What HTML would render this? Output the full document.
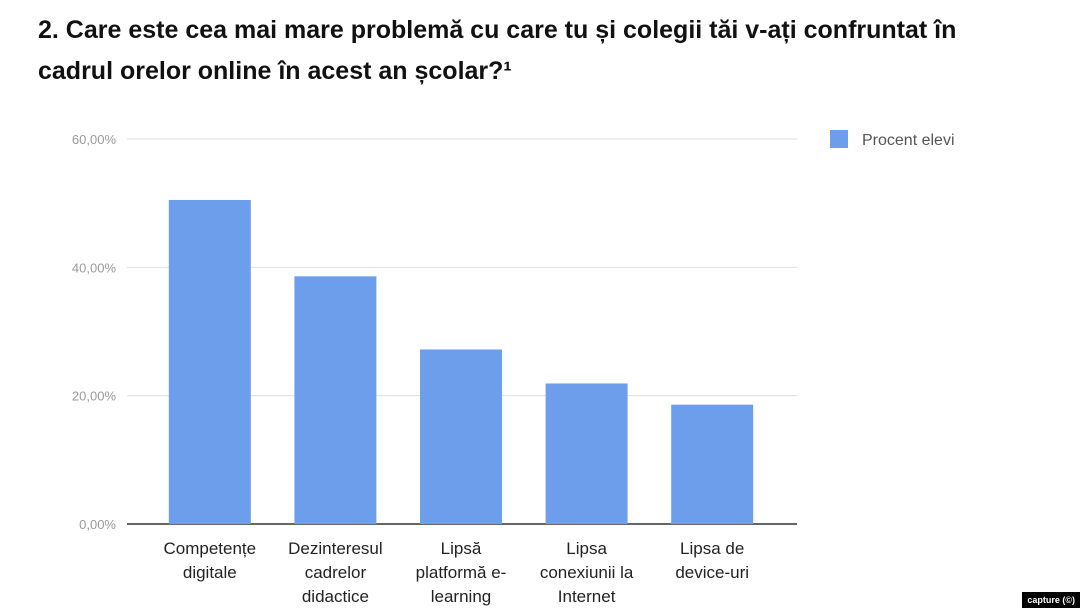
<!DOCTYPE html>
<html><head><meta charset="utf-8"><style>
body{margin:0;width:1080px;height:608px;background:#fff;overflow:hidden;position:relative;font-family:"Liberation Sans",sans-serif}
#title{position:absolute;left:38px;top:10px;font-size:25px;font-weight:bold;color:#111;line-height:41px;width:990px}
#cap{position:absolute;right:0;bottom:0;background:#000;color:#fff;font-size:9px;font-weight:bold;padding:3px 5px}
</style></head><body>
<div id="title">2. Care este cea mai mare problemă cu care tu și colegii tăi v-ați confruntat în cadrul orelor online în acest an școlar?¹</div>
<svg id="chart" width="1080" height="608" style="position:absolute;left:0;top:0"></svg>
<div id="cap">capture (©)</div>
<script>
const categories=[["Competențe","digitale"],["Dezinteresul","cadrelor","didactice"],["Lipsă","platformă e-","learning"],["Lipsa","conexiunii la","Internet"],["Lipsa de","device-uri"]];
const values=[50.5,38.6,27.2,21.9,18.6];
const ticks=[0,20,40,60];
const tickLabels=["0,00%","20,00%","40,00%","60,00%"];
const seriesName="Procent elevi";
const NS="http://www.w3.org/2000/svg";
const svg=document.getElementById('chart');
const x0=127,x1=797,yb=524,yt=139,maxV=60;
const bx0=147,bx1=775;
const y=v=>yb-(v/maxV)*(yb-yt);
const band=(bx1-bx0)/categories.length;
function mk(t,a){const e=document.createElementNS(NS,t);for(const k in a)e.setAttribute(k,a[k]);svg.appendChild(e);return e;}
ticks.forEach((t,i)=>{
 const g=mk('line',{x1:x0,x2:x1,y1:y(t),y2:y(t),stroke:t===0?'#333':'#ddd','stroke-width':t===0?1.5:1});
 
 
 const l=mk('text',{x:116,y:y(t)+5,'text-anchor':'end','font-size':13,fill:'#999'});
 l.textContent=tickLabels[i];
 
 
});
values.forEach((v,i)=>{
 const cx=bx0+band*(i+0.5);
 const r=mk('rect',{x:cx-41,y:y(v),width:82,height:yb-y(v),fill:'#6d9eeb'});
 
 
 categories[i].forEach((s,j)=>{
  const t=mk('text',{x:cx,y:554+j*24,'text-anchor':'middle','font-size':17,fill:'#222'});
  t.textContent=s;
  
  
 });
});
const ls=mk('rect',{x:830,y:130,width:18,height:18,fill:'#6d9eeb'});


const lt=mk('text',{x:862,y:145,'font-size':16,fill:'#555'});
lt.textContent=seriesName;


</script>
</body></html>
